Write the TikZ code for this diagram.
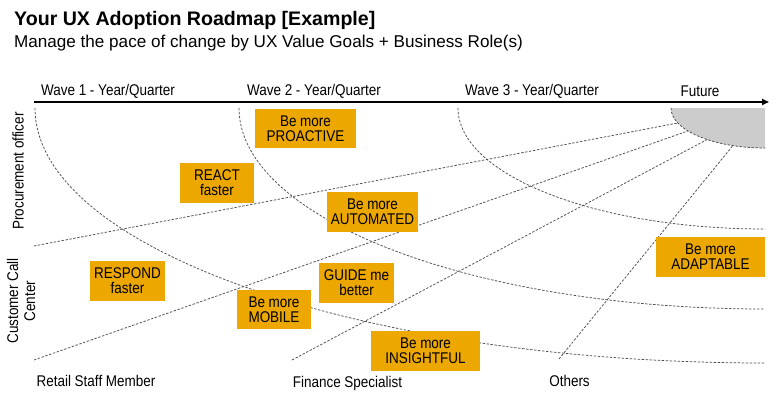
\documentclass[tikz,border=0pt]{standalone}
\usepackage{fontspec}
\setmainfont{Liberation Sans}
\newfontfamily\narrowfont{Liberation Sans}[FakeStretch=0.87]
\usetikzlibrary{arrows.meta}
\definecolor{goalorange}{RGB}{236,168,0}
\definecolor{futuregray}{RGB}{204,204,204}
\tikzset{
  goal/.style={fill=goalorange, minimum height=39.5pt, inner sep=0pt, align=center,
    font=\narrowfont\fontsize{15.5}{15}\selectfont},
  lbl/.style={inner sep=0pt, font=\narrowfont\fontsize{15.5}{17}\selectfont},
  guide/.style={draw=black!70, line width=0.75pt, dash pattern=on 2.4pt off 1.6pt}
}
\begin{document}
\begin{tikzpicture}[x=1pt,y=1pt]
      \useasboundingbox (0,0) rectangle (776,400);
      % title
      \node[anchor=west, inner sep=0pt, font=\fontsize{19.6}{22}\selectfont\bfseries] (T) at (14,380) {Your UX Adoption Roadmap [Example]};
      \node[anchor=west, inner sep=0pt, font=\fontsize{17.1}{20}\selectfont] (S) at (14,357) {Manage the pace of change by UX Value Goals + Business Role(s)};
      % time axis
      \coordinate (A0) at (34,298);
      \coordinate (A1) at (769,298);
      \draw[line width=1.6pt, -{Triangle[length=7pt,width=6pt]}] (A0) -- (A1);
      \node[lbl] (W1) at (108,309) {Wave 1 - Year/Quarter};
      \node[lbl] (W2) at (314,309) {Wave 2 - Year/Quarter};
      \node[lbl] (W3) at (532,309) {Wave 3 - Year/Quarter};
      \node[lbl] (W4) at (700,309) {Future};
      % future corner
      \coordinate (F) at (765,292);
      \fill[futuregray] (F) -- ([xshift=-94]F) arc[start angle=180, end angle=270, x radius=94, y radius=40] -- cycle;
      \draw[guide] ([xshift=-94]F) arc[start angle=180, end angle=270, x radius=94, y radius=40];
      % waves
      \draw[guide] ([xshift=-730]F) arc[start angle=180, end angle=270, x radius=730, y radius=255];
      \draw[guide] ([xshift=-526]F) arc[start angle=180, end angle=270, x radius=526, y radius=201];
      \draw[guide] ([xshift=-307]F) arc[start angle=180, end angle=270, x radius=307, y radius=121];
      % roles
      \coordinate (P0) at (34,154);
      \coordinate (R0) at (34,40);
      \coordinate (R1) at (292,40);
      \coordinate (R2) at (559,41);
      \coordinate (E0) at ([shift={(202:94 and 40)}]F);
      \coordinate (E1) at ([shift={(215:94 and 40)}]F);
      \coordinate (E2) at ([shift={(232:94 and 40)}]F);
      \coordinate (E3) at ([shift={(250:94 and 40)}]F);
      \draw[guide] (P0) -- (E0);
      \draw[guide] (R0) -- (E1);
      \draw[guide] (R1) -- (E2);
      \draw[guide] (R2) -- (E3);
      \node[lbl, rotate=90] (L1) at (18,229) {Procurement officer};
      \node[lbl, rotate=90, align=center] (L2) at (21,99) {Customer Call\\Center};
      \node[lbl] (B1) at (96,19) {Retail Staff Member};
      \node[lbl] (B2) at (347.5,17) {Finance Specialist};
      \node[lbl] (B3) at (569.5,19) {Others};
      % goals
      \node[goal, minimum width=101pt] (G1) at (305.5,271.5) {Be more\\PROACTIVE};
      \node[goal, minimum width=74pt] (G2) at (217,217) {REACT\\faster};
      \node[goal, minimum width=91pt] (G3) at (372.5,188) {Be more\\AUTOMATED};
      \node[goal, minimum width=109pt] (G4) at (710.5,143) {Be more\\ADAPTABLE};
      \node[goal, minimum width=75pt] (G5) at (127.5,119) {RESPOND\\faster};
      \node[goal, minimum width=75pt] (G6) at (356.5,117) {GUIDE me\\better};
      \node[goal, minimum width=74pt] (G7) at (274,90.5) {Be more\\MOBILE};
      \node[goal, minimum width=109pt] (G8) at (425.5,49) {Be more\\INSIGHTFUL};
    \end{tikzpicture}
\end{document}
